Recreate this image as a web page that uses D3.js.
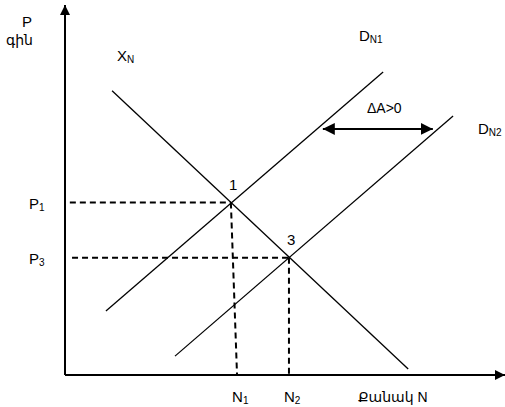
<!DOCTYPE html>
<html><head><meta charset="utf-8">
<script src="https://cdn.jsdelivr.net/npm/d3@7"></script>
<style>body{margin:0;background:#fff}svg text{font-family:"Liberation Sans",Arial,"DejaVu Sans",sans-serif;fill:#000}</style>
</head><body><div id="c"></div>
<script>
// data (x in quantity units 0-100, y in price units 0-100)
const supplyXN = [[10.7, 76.8], [78.0, 1.6]];
const demandDN1 = [[9.3, 17.3], [72.3, 81.9]];
const demandDN2 = [[25.0, 5.1], [88.2, 70.0]];
const equilibria = [{name: "1", x: 37.7, y: 46.6, nx: 39.1, px0: 1.1, p: "P", ps: "1", n: "N", ns: "1"},
                    {name: "3", x: 50.9, y: 31.7, nx: 50.9, px0: 1.6, p: "P", ps: "3", n: "N", ns: "2"}];
const shiftArrow = [[58.6, 66.5], [83.6, 66.5]];

const W = 505, H = 407;
const x = d3.scaleLinear().domain([0, 100]).range([65, 505]);
const y = d3.scaleLinear().domain([0, 100]).range([375, 5]);

const svg = d3.select("#c").append("svg").attr("width", W).attr("height", H);
const defs = svg.append("defs");
defs.append("marker").attr("id", "ah").attr("viewBox", "0 0 10 10").attr("refX", 10).attr("refY", 5)
  .attr("markerWidth", 10).attr("markerHeight", 10).attr("markerUnits", "userSpaceOnUse")
  .attr("orient", "auto-start-reverse").append("path").attr("d", "M0,0L10,5L0,10Z").attr("fill", "#000");
defs.append("marker").attr("id", "ah2").attr("viewBox", "0 0 12 12").attr("refX", 12).attr("refY", 6)
  .attr("markerWidth", 12).attr("markerHeight", 12).attr("markerUnits", "userSpaceOnUse")
  .attr("orient", "auto-start-reverse").append("path").attr("d", "M0,0L12,6L0,12Z").attr("fill", "#000");

const line = d3.line().x(d => x(d[0])).y(d => y(d[1]));

// axes
svg.append("path").attr("d", line([[0, 0], [0, 100]])).attr("stroke", "#000").attr("stroke-width", 2)
  .attr("marker-end", "url(#ah)");
svg.append("path").attr("d", line([[0, 0], [100, 0]])).attr("stroke", "#000").attr("stroke-width", 2)
  .attr("marker-end", "url(#ah)");

// curves
[supplyXN, demandDN1, demandDN2].forEach(d => {
  svg.append("path").attr("d", line(d)).attr("stroke", "#000").attr("stroke-width", 1.3).attr("fill", "none");
});

// dashed guides
equilibria.forEach(e => {
  svg.append("path").attr("d", line([[e.px0, e.y], [e.x, e.y]])).attr("stroke", "#000").attr("stroke-width", 2)
    .attr("stroke-dasharray", "6,4").attr("fill", "none");
  svg.append("path").attr("d", line([[e.x, e.y], [e.nx, 0]])).attr("stroke", "#000").attr("stroke-width", 2)
    .attr("stroke-dasharray", "6,4").attr("fill", "none");
});

// shift arrow
svg.append("path").attr("d", line(shiftArrow)).attr("stroke", "#000").attr("stroke-width", 2)
  .attr("marker-start", "url(#ah2)").attr("marker-end", "url(#ah2)");

function label(tx, ty, main, sub, size) {
  const t = svg.append("text").attr("x", tx).attr("y", ty).attr("font-size", size || 15);
  t.append("tspan").text(main);
  if (sub) t.append("tspan").attr("font-size", 10).attr("dy", 2).text(sub);
  return t;
}

label(22, 27, "P");
svg.append("text").attr("x", 6).attr("y", 45).attr("font-size", 14).text("գին");
label(117, 61, "X", "N");
label(359, 41, "D", "N1");
label(478, 134, "D", "N2");
label(367, 113, "ΔA>0", null, 14);
equilibria.forEach(e => {
  label(29, y(e.y) + 6, e.p, e.ps);
  svg.append("text").attr("x", x(e.x) - 2).attr("y", y(e.y) - 13).attr("font-size", 15).text(e.name);
  label(x(e.nx) - 5, 402, e.n, e.ns);
});
svg.append("text").attr("x", 358).attr("y", 402).attr("font-size", 14).text("Քանակ N");
</script></body></html>
